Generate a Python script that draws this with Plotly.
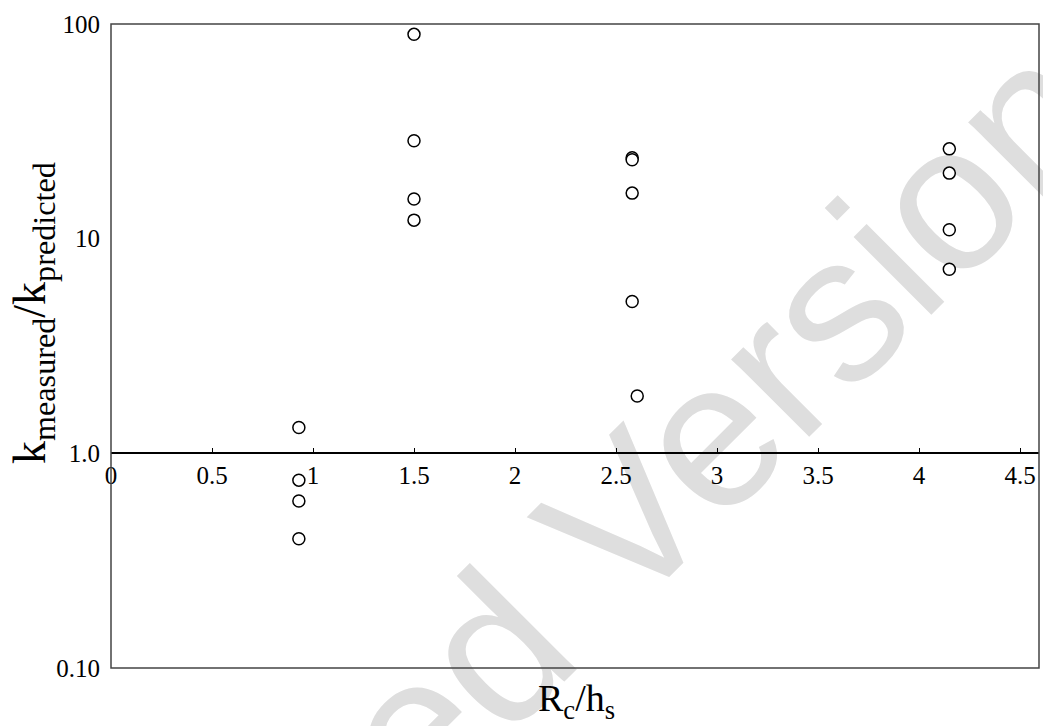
import plotly.graph_objects as go

# Data
x_vals = [0.93, 0.93, 0.93, 0.93,
          1.50, 1.50, 1.50, 1.50,
          2.58, 2.58, 2.58, 2.58, 2.605,
          4.15, 4.15, 4.15, 4.15]
y_vals = [1.32, 0.75, 0.60, 0.40,
          89.5, 28.6, 15.3, 12.2,
          23.8, 23.3, 16.3, 5.1, 1.85,
          26.2, 20.2, 11.0, 7.2]

x_tickvals = [0, 0.5, 1, 1.5, 2, 2.5, 3, 3.5, 4, 4.5]
x_ticktext = ["0", "0.5", "1", "1.5", "2", "2.5", "3", "3.5", "4", "4.5"]
y_tickvals = [0.1, 1, 10, 100]
y_ticktext = ["0.10", "1.0", "10", "100"]

W, H = 1043, 726
ML, MR, MT, MB = 111, 4, 24, 58
PW, PH = W - ML - MR, H - MT - MB

def px_to_paper(px, py):
    return (px - ML) / PW, (H - MB - py) / PH

serif = "Liberation Serif, Times New Roman, serif"

fig = go.Figure()
fig.add_trace(go.Scatter(
    x=x_vals, y=y_vals, mode="markers",
    marker=dict(symbol="circle", size=12, color="white",
                line=dict(color="black", width=1.5)),
    showlegend=False, cliponaxis=False,
))

wx, wy = px_to_paper(366, 750)
tx, ty = px_to_paper(576, 701)
yx, yy = px_to_paper(33, 313)

fig.update_layout(
    width=W, height=H,
    margin=dict(l=ML, r=MR, t=MT, b=MB, pad=0),
    paper_bgcolor="white", plot_bgcolor="rgba(0,0,0,0)",
    font=dict(family=serif, color="black", size=25),
    xaxis=dict(
        range=[0, 4.594], tickvals=x_tickvals, ticktext=x_ticktext,
        anchor="free", position=1/3,
        showline=True, linecolor="black", linewidth=1.5,
        ticks="inside", ticklen=5, tickwidth=1, tickcolor="black",
        showgrid=False, zeroline=False,
        tickfont=dict(family=serif, size=25, color="black"),
    ),
    yaxis=dict(
        type="log", range=[-1, 2], tickvals=y_tickvals, ticktext=y_ticktext,
        showline=False, ticks="", showgrid=False, zeroline=False,
        ticklabelstandoff=10,
        tickfont=dict(family=serif, size=25, color="black"),
    ),
    shapes=[
        dict(type="rect", xref="paper", yref="paper", x0=wx - 0.001, x1=wx + 0.001,
             y0=wy - 0.001, y1=wy + 0.001, line=dict(width=0), fillcolor="rgba(0,0,0,0)",
             layer="below",
             label=dict(text="Unregistered Version", textangle=-45,
                        textposition="middle center",
                        font=dict(family="Liberation Sans, Arial, sans-serif",
                                  size=208, color="#dedede"))),
        dict(type="rect", xref="paper", yref="paper", x0=0, x1=1, y0=0, y1=1,
             line=dict(color="#444444", width=1.5), fillcolor="rgba(0,0,0,0)",
             layer="above"),
    ],
    annotations=[
        dict(text="R<sub>c</sub>/h<sub>s</sub>", xref="paper", yref="paper",
             x=tx, y=ty, xanchor="center", yanchor="middle", showarrow=False,
             font=dict(family=serif, size=38, color="black")),
        dict(text="k<sub>measured</sub>/k<sub>predicted</sub>", xref="paper", yref="paper",
             x=yx, y=yy, xanchor="center", yanchor="middle", showarrow=False,
             textangle=-90,
             font=dict(family=serif, size=46, color="black")),
    ],
)

fig.write_html("out.html")
